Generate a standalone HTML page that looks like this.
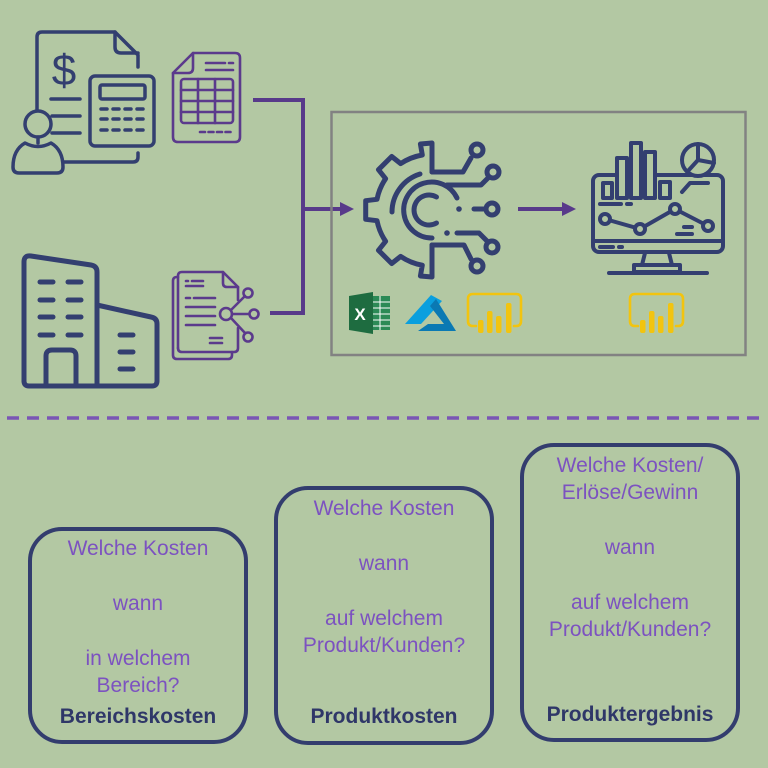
<!DOCTYPE html>
<html><head><meta charset="utf-8"><style>
html,body{margin:0;padding:0;background:#b3c8a3;}
svg{display:block;}
.t{font-family:"Liberation Sans",sans-serif;font-size:21px;fill:#7c52c0;text-anchor:middle;}
.b{font-family:"Liberation Sans",sans-serif;font-size:21px;font-weight:bold;fill:#2f3768;text-anchor:middle;}
</style></head><body>
<svg width="768" height="768" viewBox="0 0 768 768" xmlns="http://www.w3.org/2000/svg">
<rect width="768" height="768" fill="#b3c8a3"/>

<!-- Person + calculator icon -->
<g fill="none" stroke="#333f70" stroke-width="3.5" stroke-linecap="round" stroke-linejoin="round">
  <path d="M37,110 L37,37 Q37,32 42,32 L115,32 L138,55 L138,67"/>
  <path d="M115,32 L115,47 Q115,53 121,53 L138,53"/>
  <path d="M63,162 L133,162 Q138,162 138,157 L138,153"/>
  <line x1="51" y1="99" x2="80" y2="99"/>
  <line x1="52" y1="116" x2="80" y2="116"/>
  <line x1="52" y1="133" x2="80" y2="133"/>
  <rect x="90" y="76" width="64" height="70" rx="5"/>
  <rect x="100" y="85" width="45" height="14" rx="2"/>
  <line x1="101" y1="109" x2="145" y2="109" stroke-dasharray="6 6"/>
  <line x1="101" y1="119" x2="145" y2="119" stroke-dasharray="6 6"/>
  <line x1="101" y1="130" x2="145" y2="130" stroke-dasharray="6 6"/>
  <circle cx="38" cy="124" r="13"/>
  <line x1="38" y1="137" x2="38" y2="143"/>
  <path d="M13,167 Q13,150 25,143 Q38,150 51,143 Q63,150 63,167 Q63,173 57,173 L19,173 Q13,173 13,167 Z"/>
</g>
<text x="64" y="85" font-family="Liberation Sans, sans-serif" font-size="44" fill="#333f70" text-anchor="middle">$</text>

<!-- Spreadsheet doc -->
<g fill="none" stroke="#5b3a8c" stroke-width="2.6" stroke-linecap="round" stroke-linejoin="round">
  <path d="M193,53 L235,53 Q240,53 240,58 L240,137 Q240,142 235,142 L178,142 Q173,142 173,137 L173,73 Z"/>
  <path d="M173,73 L188,73 Q193,73 193,68 L193,53"/>
  <rect x="181" y="79" width="52" height="44" rx="3"/>
  <line x1="181" y1="90" x2="233" y2="90"/>
  <line x1="181" y1="101" x2="233" y2="101"/>
  <line x1="181" y1="112" x2="233" y2="112"/>
  <line x1="198" y1="79" x2="198" y2="123"/>
  <line x1="215" y1="79" x2="215" y2="123"/>
  <line x1="206" y1="63" x2="225" y2="63"/>
  <line x1="229" y1="63" x2="233" y2="63"/>
  <line x1="206" y1="70" x2="233" y2="70"/>
  <line x1="200" y1="132" x2="232" y2="132" stroke-dasharray="5 3.5"/>
</g>

<!-- Shared doc -->
<g fill="none" stroke="#5b3a8c" stroke-width="2.6" stroke-linecap="round" stroke-linejoin="round">
  <path d="M178,277 L177,277 Q173,277 173,281 L173,355 Q173,359 177,359 L228,359 Q232,359 232,355 L232,352"/>
  <path d="M178,348 L178,276 Q178,272 182,272 L223,272 L238,287 L238,300"/>
  <path d="M238,328 L238,348 Q238,352 234,352 L182,352 Q178,352 178,348"/>
  <path d="M223,272 L223,283 Q223,287 227,287 L238,287"/>
  <line x1="186" y1="281" x2="188" y2="281"/><line x1="192" y1="281" x2="203" y2="281"/>
  <line x1="186" y1="286" x2="203" y2="286"/>
  <line x1="186" y1="298" x2="190" y2="298"/><line x1="194" y1="298" x2="215" y2="298"/>
  <line x1="186" y1="307" x2="215" y2="307"/>
  <line x1="186" y1="316" x2="215" y2="316"/>
  <line x1="186" y1="325" x2="215" y2="325"/>
  <line x1="210" y1="338" x2="222" y2="338"/>
  <line x1="210" y1="343" x2="222" y2="343"/>
  <circle cx="226" cy="314" r="6"/>
  <line x1="231" y1="310" x2="245" y2="296"/>
  <line x1="232" y1="314" x2="249" y2="314"/>
  <line x1="231" y1="318" x2="245" y2="333"/>
  <circle cx="248" cy="293" r="4.5"/>
  <circle cx="254" cy="314" r="4.5"/>
  <circle cx="248" cy="337" r="4.5"/>
</g>

<!-- Building -->
<g fill="none" stroke="#333f70" stroke-width="5" stroke-linecap="round" stroke-linejoin="round">
  <path d="M24,381 L24,262 Q24,255 31,256 L91,265 Q97,266 97,272 L97,386"/>
  <path d="M24,381 Q24,386 29,386 L152,386 Q157,386 157,381 L157,324 Q157,318 151,317 L97,305"/>
  <path d="M46,386 L46,356 Q46,350 52,350 L70,350 Q76,350 76,356 L76,386"/>
  <line x1="40" y1="282" x2="53" y2="282"/><line x1="68" y1="282" x2="81" y2="282"/>
  <line x1="40" y1="300" x2="53" y2="300"/><line x1="68" y1="300" x2="81" y2="300"/>
  <line x1="40" y1="317" x2="53" y2="317"/><line x1="68" y1="317" x2="81" y2="317"/>
  <line x1="40" y1="335" x2="53" y2="335"/><line x1="68" y1="335" x2="81" y2="335"/>
  <line x1="120" y1="335" x2="133" y2="335"/>
  <line x1="120" y1="352" x2="133" y2="352"/>
  <line x1="120" y1="369" x2="133" y2="369"/>
</g>

<!-- Connectors -->
<g fill="none" stroke="#583a8a" stroke-width="4">
  <path d="M253,100 L303,100 L303,313 L270,313"/>
  <line x1="303" y1="209" x2="342" y2="209"/>
  <line x1="518" y1="209" x2="564" y2="209"/>
</g>
<polygon points="340,202 354,209 340,216" fill="#583a8a"/>
<polygon points="562,202 576,209 562,216" fill="#583a8a"/>

<!-- Frame -->
<rect x="331.5" y="112" width="414" height="243" fill="none" stroke="#828282" stroke-width="2.5"/>

<!-- Gear icon -->
<g fill="none" stroke="#333f70" stroke-width="5" stroke-linecap="round" stroke-linejoin="round">
  <path d="M432,172 L432,143 L420.4,144 L422.3,155 A56,56 0 0 0 400.7,163.6 L391.7,156.5 L378.5,169.7 L385.6,178.7 A56,56 0 0 0 377,199.3 L365.7,200.7 L365.7,219.3 L377,220.7 A56,56 0 0 0 385.6,241.3 L378.5,250.3 L391.7,263.5 L400.7,256.4 A56,56 0 0 0 422.3,265.2 L420.4,276 L432,277 L432,245"/>
  <path d="M420,174 A40,40 0 0 0 392,212"/>
  <path d="M457,198 A28,28 0 1 0 432,238"/>
  <path d="M436.5,197 A15,15 0 1 0 436.5,223"/>
  <path d="M432,172 L463,172 L471,158"/>
  <circle cx="477" cy="150" r="6"/>
  <path d="M447,185 L481,185 L488,178"/>
  <circle cx="493" cy="172" r="6"/>
  <line x1="474" y1="209" x2="486" y2="209"/>
  <circle cx="492" cy="209" r="6"/>
  <path d="M457,233 L479,233 L487,241"/>
  <circle cx="492" cy="247" r="6"/>
  <path d="M432,245 L464,245 L471,259"/>
  <circle cx="477" cy="266" r="6"/>
</g>
<circle cx="459" cy="209" r="2.8" fill="#333f70"/>
<circle cx="447" cy="233" r="2.8" fill="#333f70"/>

<!-- Monitor icon -->
<g fill="none" stroke="#333f70" stroke-width="4" stroke-linecap="round" stroke-linejoin="round">
  <rect x="593" y="175" width="130" height="77" rx="6"/>
  <rect x="603" y="183" width="9" height="15" fill="#b3c8a3"/>
  <rect x="617" y="158" width="10" height="40" fill="#b3c8a3"/>
  <rect x="631" y="143" width="10" height="55" fill="#b3c8a3"/>
  <rect x="645" y="152" width="10" height="46" fill="#b3c8a3"/>
  <rect x="660" y="182" width="10" height="16" fill="#b3c8a3"/>
  <line x1="600" y1="204" x2="621" y2="204"/>
  <line x1="627" y1="204" x2="631" y2="204"/>
  <circle cx="698" cy="160" r="16" fill="#b3c8a3"/>
  <path d="M698,144 L698,160 L714,163 M698,160 L688,171"/>
  <path d="M708,183 L690,183 L682,192"/>
  <polyline points="605,219 640,229 675,209 708,226"/>
  <circle cx="605" cy="219" r="5" fill="#b3c8a3"/>
  <circle cx="640" cy="229" r="5" fill="#b3c8a3"/>
  <circle cx="675" cy="209" r="5" fill="#b3c8a3"/>
  <circle cx="708" cy="226" r="5" fill="#b3c8a3"/>
  <line x1="684" y1="227" x2="692" y2="227"/>
  <line x1="677" y1="234" x2="692" y2="234"/>
  <line x1="593" y1="241" x2="723" y2="241"/>
  <line x1="600" y1="247" x2="613" y2="247"/>
  <line x1="619" y1="247" x2="622" y2="247"/>
  <path d="M645,253 L642,265 M669,253 L672,265"/>
  <rect x="634" y="265" width="46" height="7"/>
  <line x1="609" y1="273" x2="707" y2="273"/>
</g>

<!-- Excel logo -->
<rect x="364" y="296" width="26" height="34" fill="#2c8a56"/>
<g stroke="#ffffff" stroke-width="1">
  <line x1="372" y1="302" x2="390" y2="302"/>
  <line x1="372" y1="308" x2="390" y2="308"/>
  <line x1="372" y1="314" x2="390" y2="314"/>
  <line x1="372" y1="320" x2="390" y2="320"/>
  <line x1="372" y1="326" x2="390" y2="326"/>
  <line x1="380" y1="296" x2="380" y2="330"/>
</g>
<polygon points="349,296 373,292 373,334 349,330" fill="#1e6c40"/>
<text x="360" y="320" font-family="Liberation Sans, sans-serif" font-size="17" font-weight="bold" fill="#ffffff" text-anchor="middle">X</text>

<!-- Azure logo -->
<polygon points="405,324 431,295 442,301 421,324" fill="#0a9fde"/>
<polygon points="436,299 456,331 418,331 428,324 444,324 430,306" fill="#0a79b3"/>

<!-- Power BI logos -->
<g fill="none" stroke="#f2c40f" stroke-width="2.6" stroke-linecap="round">
  <path d="M476,326 L473,326 Q468,326 468,321 L468,299 Q468,294 473,294 L516,294 Q521,294 521,299 L521,321 Q521,326 516,326 L514,326"/>
  <path d="M638,326 L635,326 Q630,326 630,321 L630,299 Q630,294 635,294 L678,294 Q683,294 683,299 L683,321 Q683,326 678,326 L676,326"/>
</g>
<g fill="#f2c40f">
  <rect x="478" y="320" width="5.5" height="13" rx="2"/>
  <rect x="487" y="311" width="5.5" height="22" rx="2"/>
  <rect x="496" y="316" width="5.5" height="17" rx="2"/>
  <rect x="506" y="303" width="5.5" height="30" rx="2"/>
  <rect x="640" y="320" width="5.5" height="13" rx="2"/>
  <rect x="649" y="311" width="5.5" height="22" rx="2"/>
  <rect x="658" y="316" width="5.5" height="17" rx="2"/>
  <rect x="668" y="303" width="5.5" height="30" rx="2"/>
</g>

<!-- Dashed separator -->
<line x1="7" y1="418" x2="762" y2="418" stroke="#7a55b5" stroke-width="3.5" stroke-dasharray="12 8"/>

<!-- Boxes -->
<g fill="none" stroke="#333d6e" stroke-width="4">
  <rect x="30" y="529" width="216" height="213" rx="32"/>
  <rect x="276" y="488" width="216" height="255" rx="32"/>
  <rect x="522" y="445" width="216" height="295" rx="32"/>
</g>

<text class="t" x="138" y="555">Welche Kosten</text>
<text class="t" x="138" y="610">wann</text>
<text class="t" x="138" y="665">in welchem</text>
<text class="t" x="138" y="692">Bereich?</text>
<text class="b" x="138" y="723">Bereichskosten</text>

<text class="t" x="384" y="515">Welche Kosten</text>
<text class="t" x="384" y="570">wann</text>
<text class="t" x="384" y="625">auf welchem</text>
<text class="t" x="384" y="652">Produkt/Kunden?</text>
<text class="b" x="384" y="723">Produktkosten</text>

<text class="t" x="630" y="472">Welche Kosten/</text>
<text class="t" x="630" y="499">Erlöse/Gewinn</text>
<text class="t" x="630" y="554">wann</text>
<text class="t" x="630" y="609">auf welchem</text>
<text class="t" x="630" y="636">Produkt/Kunden?</text>
<text class="b" x="630" y="721">Produktergebnis</text>
</svg>
</body></html>
